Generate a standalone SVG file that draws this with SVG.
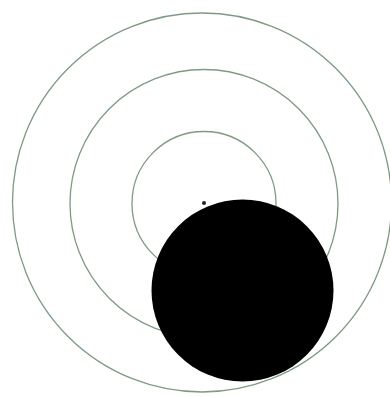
<svg xmlns="http://www.w3.org/2000/svg" width="390" height="397" viewBox="0 0 390 397">
<style>
.ring{fill:none;stroke:#7f9a82;stroke-width:1.3}
</style>
<rect width="390" height="397" fill="#ffffff"/>
<g id="rings">
<circle class="ring" cx="202" cy="202.5" r="189.5"/>
<circle class="ring" cx="204" cy="203.5" r="134"/>
<circle class="ring" cx="204" cy="203.5" r="72"/>
</g>
<circle id="center-dot" cx="204" cy="203" r="2" fill="#222"/>
<circle id="disc" cx="242.5" cy="290.5" r="91" fill="#000"/>
</svg>
